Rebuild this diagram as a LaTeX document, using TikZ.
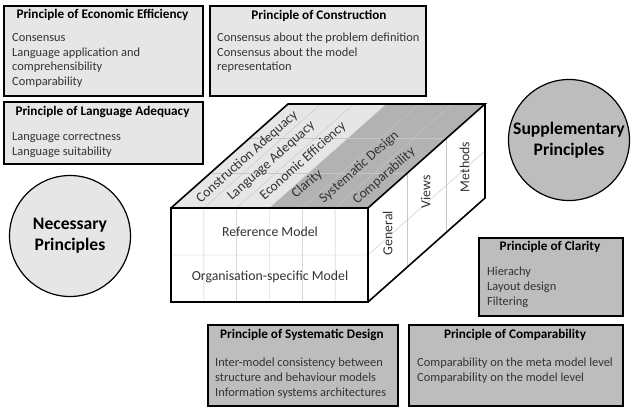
\documentclass[tikz,border=0pt]{standalone}
\usepackage{fontspec}
\setmainfont{Carlito}
\usetikzlibrary{calc,positioning}
\definecolor{lightfill}{HTML}{E6E6E6}
\definecolor{darkfill}{HTML}{BDBDBD}
\definecolor{topdark}{HTML}{B2B2B2}
\definecolor{textgray}{HTML}{333333}
\tikzset{
  principle/.style={draw=black, line width=1.6pt, anchor=north west, inner sep=0pt},
  ptitle/.style={font=\fontsize{13.2}{15}\selectfont\bfseries, anchor=mid, inner sep=0pt},
  pbody/.style={font=\fontsize{12.4}{14}\selectfont, text=textgray, anchor=mid west, inner sep=0pt},
  category/.style={circle, draw=black, line width=1.2pt, minimum size=121pt, inner sep=0pt,
    font=\fontsize{17.6}{21}\selectfont\bfseries, align=center},
  cube/.style={line width=1.6pt, line join=miter},
  grid/.style={gray!45, line width=0.4pt},
  facelabel/.style={font=\fontsize{13.8}{15}\selectfont, text=textgray, inner sep=0pt, anchor=mid},
}
\begin{document}
\begin{tikzpicture}[x=1pt,y=-1pt]
\useasboundingbox (0,0) rectangle (637,408);

\node[principle, fill=lightfill, minimum width=199pt, minimum height=90pt] (eco) at (3,5) {};
\node[ptitle] (eco-title) at (102.5,16) {Principle of Economic Efficiency};
\foreach \line [count=\i from 0] in {Consensus, Language application and, comprehensibility, Comparability}
  \node[pbody] (eco-\i) at (12,{39+14.7*\i}) {\line};

\node[principle, fill=lightfill, minimum width=216pt, minimum height=90pt] (con) at (209,5) {};
\node[ptitle] (con-title) at (319,17) {Principle of Construction};
\foreach \line [count=\i from 0] in {Consensus about the problem definition, Consensus about the model, representation}
  \node[pbody] (con-\i) at (217,{39+14.7*\i}) {\line};

\node[principle, fill=lightfill, minimum width=199pt, minimum height=62pt] (lang) at (3,101) {};
\node[ptitle] (lang-title) at (102.5,113) {Principle of Language Adequacy};
\foreach \line [count=\i from 0] in {Language correctness, Language suitability}
  \node[pbody] (lang-\i) at (12,{138+15*\i}) {\line};

\node[principle, fill=darkfill, minimum width=144pt, minimum height=78pt] (clar) at (478,237) {};
\node[ptitle] (clar-title) at (550,248) {Principle of Clarity};
\foreach \line [count=\i from 0] in {Hierachy, Layout design, Filtering}
  \node[pbody] (clar-\i) at (487,{273+15*\i}) {\line};

\node[principle, fill=darkfill, minimum width=190pt, minimum height=81pt] (sys) at (207,324) {};
\node[ptitle] (sys-title) at (302,336) {Principle of Systematic Design};
\foreach \line [count=\i from 0] in {Inter-model consistency between, structure and behaviour models, Information systems architectures}
  \node[pbody] (sys-\i) at (215,{364+15*\i}) {\line};

\node[principle, fill=darkfill, minimum width=214pt, minimum height=81pt] (comp) at (408,324) {};
\node[ptitle] (comp-title) at (515,336) {Principle of Comparability};
\foreach \line [count=\i from 0] in {Comparability on the meta model level, Comparability on the model level}
  \node[pbody] (comp-\i) at (417,{364+15*\i}) {\line};

\node[category, fill=lightfill] (nec) at (70,236) {Necessary\\Principles};
\node[category, fill=darkfill] (sup) at (569,140) {Supplementary\\Principles};

\coordinate (A) at (171,208);
\coordinate (B) at (368,208);
\coordinate (C) at (368,302);
\coordinate (D) at (171,302);
\coordinate (E) at (288,104);
\coordinate (F) at (485,104);
\coordinate (G) at (485,198);
\fill[white] (A) -- (B) -- (C) -- (D) -- cycle;
\fill[white] (B) -- (F) -- (G) -- (C) -- cycle;
\fill[lightfill] (A) -- ($(A)!.5!(B)$) -- ($(E)!.5!(F)$) -- (E) -- cycle;
\fill[topdark] ($(A)!.5!(B)$) -- (B) -- (F) -- ($(E)!.5!(F)$) -- cycle;
\foreach \i in {1,...,5} {
  \draw[grid] ($(D)!\i/6!(C)$) -- ($(A)!\i/6!(B)$) -- ($(E)!\i/6!(F)$);
}
\foreach \t in {1,2} {
  \draw[grid] ($(A)!\t/3!(E)$) -- ($(B)!\t/3!(F)$) -- ($(C)!\t/3!(G)$);
}
\draw[grid] ($(A)!.5!(D)$) -- ($(B)!.5!(C)$) -- ($(F)!.5!(G)$);
\draw[cube] (A) -- (B) -- (C) -- (D) -- cycle;
\draw[cube] (A) -- (E) -- (F) -- (B);
\draw[cube] (F) -- (G) -- (C);

\node[facelabel] (ref) at (270,234) {Reference Model};
\node[facelabel] (org) at (270,278) {Organisation-specific Model};

\node[facelabel, rotate=41.6] (t-con) at (248,158) {Construction Adequacy};
\node[facelabel, rotate=41.6] (t-lang) at (272,162) {Language Adequacy};
\node[facelabel, rotate=41.6] (t-eco) at (304,162) {Economic Efficiency};
\node[facelabel, rotate=41.6] (t-clar) at (308,185) {Clarity};
\node[facelabel, rotate=41.6] (t-sys) at (360,168) {Systematic Design};
\node[facelabel, rotate=41.6] (t-comp) at (385,177) {Comparability};

\node[facelabel, rotate=90] (s-gen) at (390,233) {General};
\node[facelabel, rotate=90] (s-views) at (428,192) {Views};
\node[facelabel, rotate=90] (s-meth) at (467,167) {Methods};
\end{tikzpicture}
\end{document}
